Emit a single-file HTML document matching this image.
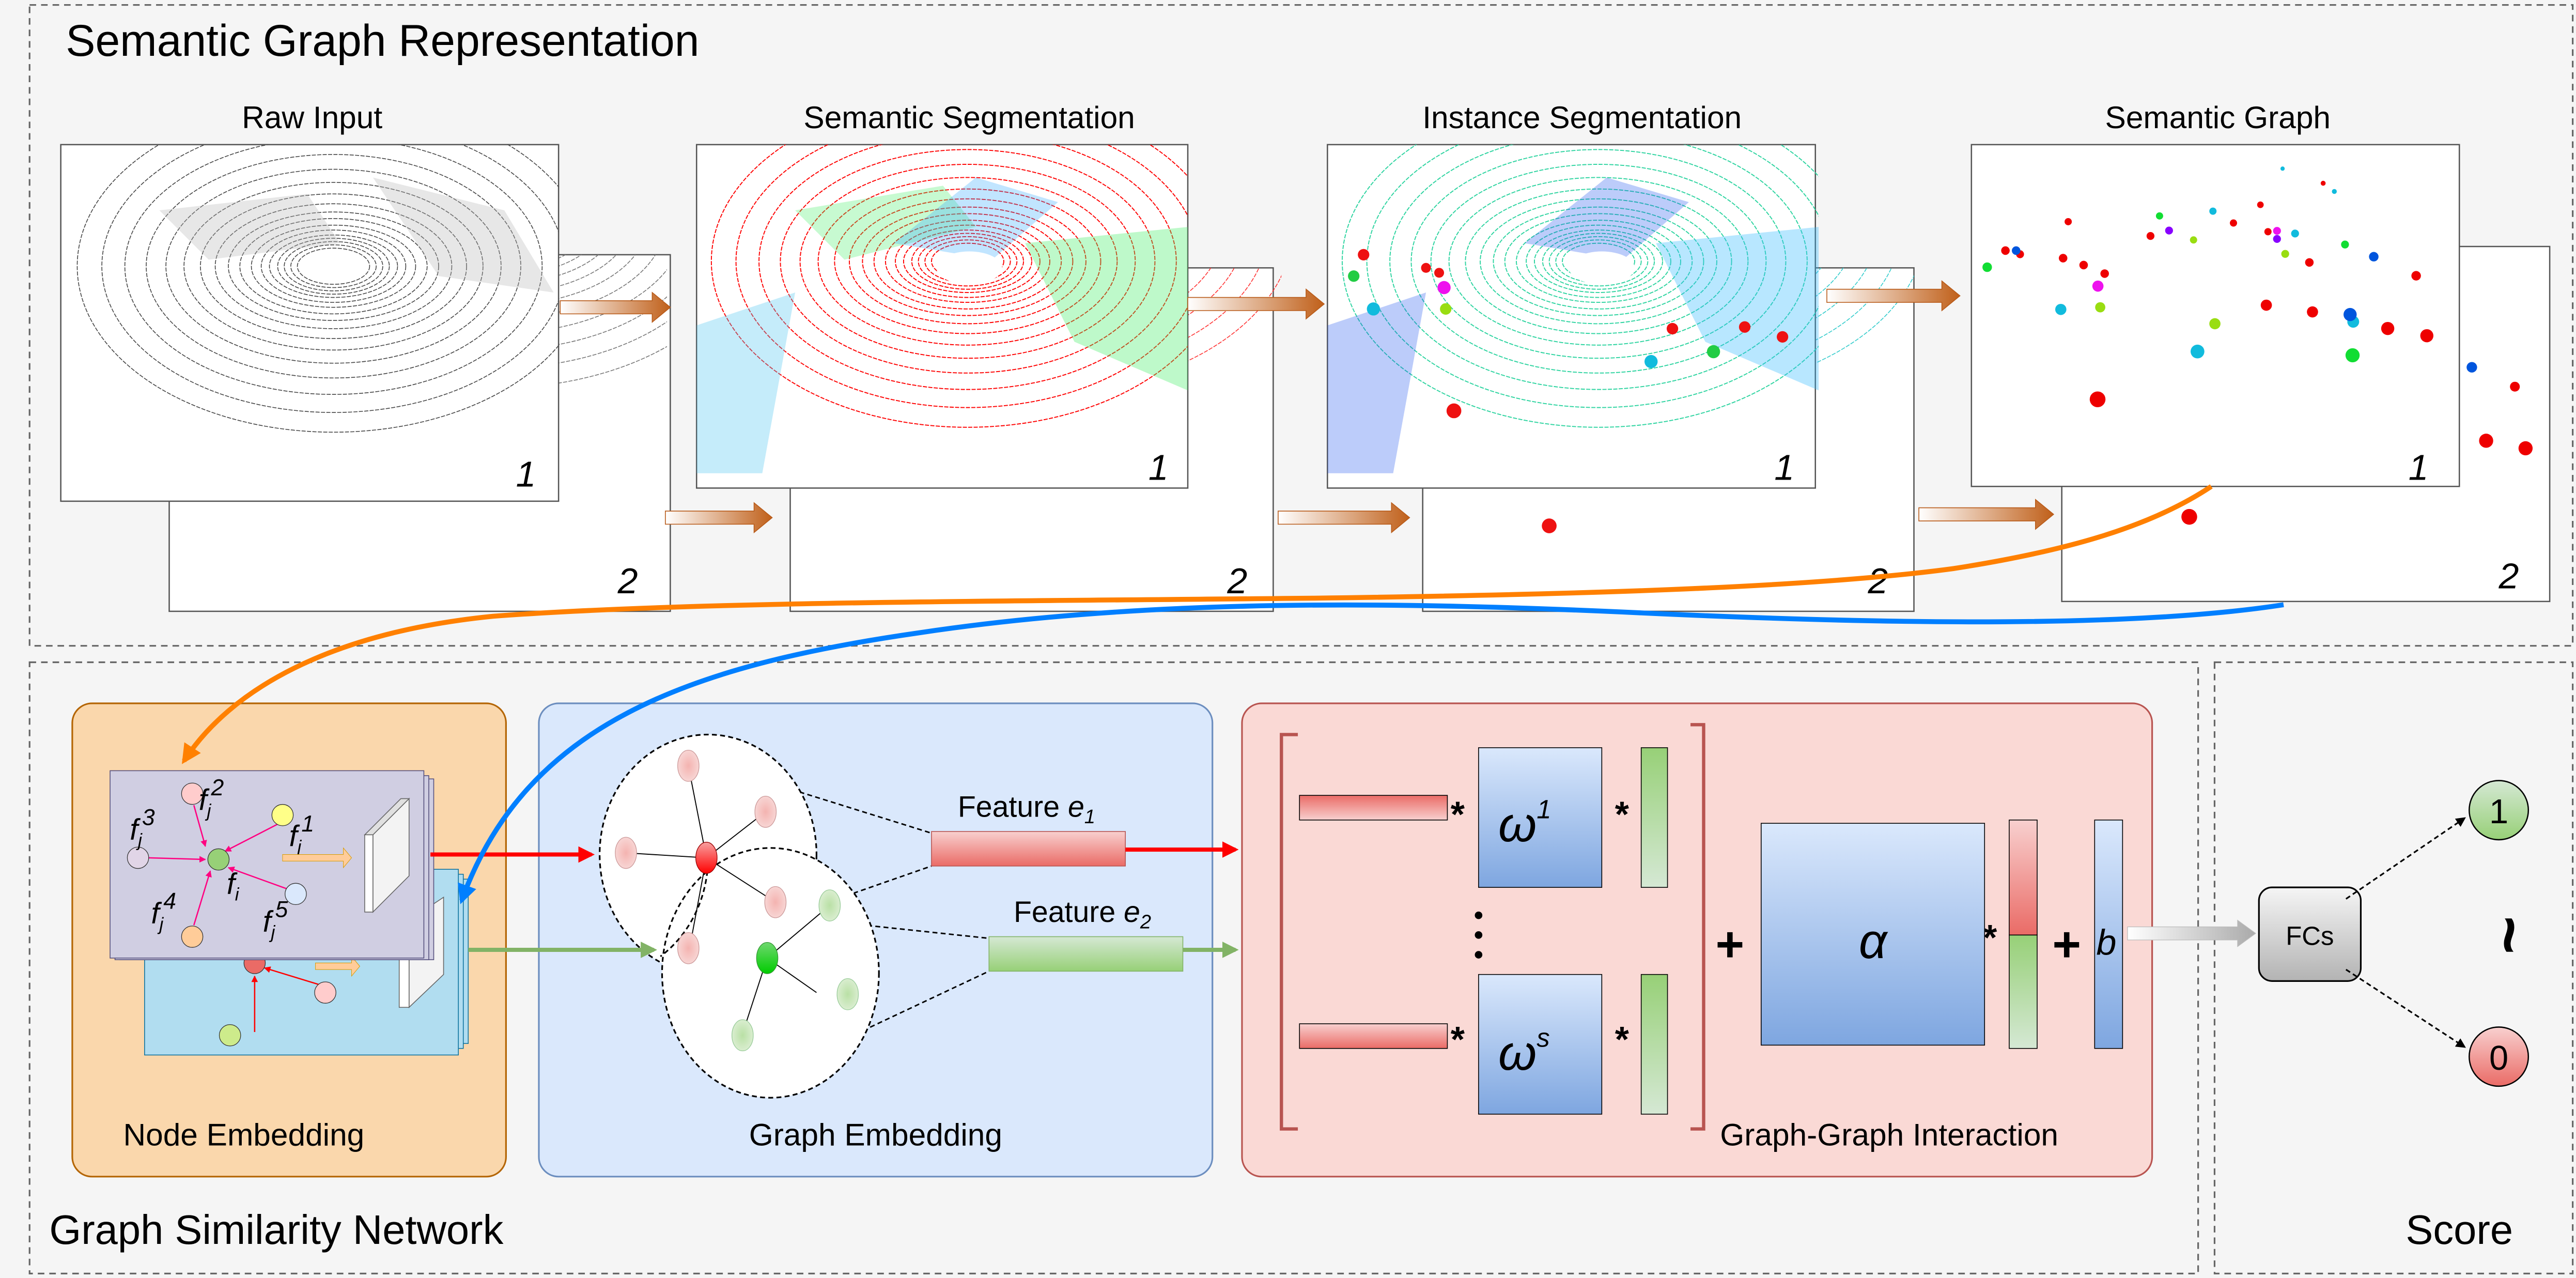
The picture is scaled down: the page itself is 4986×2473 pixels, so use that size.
<!DOCTYPE html>
<html><head><meta charset="utf-8"><style>
html,body{margin:0;padding:0;background:#f5f5f5}
svg{display:block}
text{font-family:"Liberation Sans",sans-serif}
</style></head><body>
<svg width="4986" height="2473" viewBox="0 0 1568 777.7" xmlns="http://www.w3.org/2000/svg">
<defs>
<linearGradient id="brown" x1="0" x2="1"><stop offset="0" stop-color="#fff"/><stop offset="1" stop-color="#c0601a"/></linearGradient>
<linearGradient id="redb" x1="0" y1="0" x2="0" y2="1"><stop offset="0" stop-color="#ea6b66"/><stop offset="1" stop-color="#f8d0cf"/></linearGradient>
<linearGradient id="redb2" x1="0" y1="0" x2="0" y2="1"><stop offset="0" stop-color="#f8d0cf"/><stop offset="1" stop-color="#ea6b66"/></linearGradient>
<linearGradient id="greenb" x1="0" y1="0" x2="0" y2="1"><stop offset="0" stop-color="#97d077"/><stop offset="1" stop-color="#d5e8d4"/></linearGradient>
<linearGradient id="greenh" x1="0" y1="0" x2="0" y2="1"><stop offset="0" stop-color="#d5e8d4"/><stop offset="1" stop-color="#97d077"/></linearGradient>
<linearGradient id="blueb" x1="0" y1="0" x2="0" y2="1"><stop offset="0" stop-color="#dae8fc"/><stop offset="1" stop-color="#7ea6e0"/></linearGradient>
<linearGradient id="gray" x1="0" y1="0" x2="0" y2="1"><stop offset="0" stop-color="#f5f5f5"/><stop offset="1" stop-color="#b3b3b3"/></linearGradient>
<linearGradient id="grayarr" x1="0" x2="1"><stop offset="0" stop-color="#fff"/><stop offset="1" stop-color="#aaa"/></linearGradient>
<radialGradient id="pn" cx=".5" cy=".5" r=".6"><stop offset="0" stop-color="#f4b3b0"/><stop offset="1" stop-color="#f8dcdb"/></radialGradient>
<radialGradient id="gn" cx=".5" cy=".5" r=".6"><stop offset="0" stop-color="#b9e0a5"/><stop offset="1" stop-color="#e0f0d8"/></radialGradient>
<linearGradient id="rn" x1="0" y1="0" x2="0" y2="1"><stop offset="0" stop-color="#f8a0a0"/><stop offset="1" stop-color="#f00"/></linearGradient>
<linearGradient id="gnn" x1="0" y1="0" x2="0" y2="1"><stop offset="0" stop-color="#6fd86f"/><stop offset="1" stop-color="#0c0"/></linearGradient>
<marker id="ah" viewBox="0 0 10 10" refX="8" refY="5" markerWidth="4" markerHeight="4" orient="auto"><path d="M0,0L10,5L0,10z" fill="context-stroke"/></marker>
<marker id="ahs" viewBox="0 0 10 10" refX="8" refY="5" markerWidth="6" markerHeight="6" orient="auto"><path d="M0,0L10,5L0,10z" fill="#000"/></marker>
<marker id="ahp" viewBox="0 0 10 10" refX="9" refY="5" markerWidth="5" markerHeight="5" orient="auto"><path d="M0,0L10,5L0,10z" fill="#ff0080"/></marker>
<marker id="ahr" viewBox="0 0 10 10" refX="9" refY="5" markerWidth="5" markerHeight="5" orient="auto"><path d="M0,0L10,5L0,10z" fill="#f00"/></marker>
<g id="cloud" fill="none" stroke-dasharray="2.5,0.8">
<ellipse rx="22" ry="11"/><ellipse rx="26" ry="13"/><ellipse rx="30" ry="15"/><ellipse rx="34" ry="17"/><ellipse rx="39" ry="19"/><ellipse rx="44" ry="22"/><ellipse rx="50" ry="25"/><ellipse rx="57" ry="29"/><ellipse rx="64" ry="33"/><ellipse rx="72" ry="38"/><ellipse rx="81" ry="44"/><ellipse rx="91" ry="51"/><ellipse rx="102" ry="59"/><ellipse rx="114" ry="68"/><ellipse rx="127" ry="78"/><ellipse rx="141" ry="89"/><ellipse rx="156" ry="101"/>
</g>
<clipPath id="c1"><rect x="0" y="0" width="303" height="217"/></clipPath>
<clipPath id="c2"><rect x="0" y="0" width="299" height="209"/></clipPath>
</defs>

<!-- top section -->
<rect x="18" y="3" width="1548" height="390" fill="#f5f5f5" stroke="#666" stroke-width="1" stroke-dasharray="4,3"/>
<text x="40" y="34" font-size="27">Semantic Graph Representation</text>
<text x="190" y="78" font-size="19" text-anchor="middle">Raw Input</text>
<text x="590" y="78" font-size="19" text-anchor="middle">Semantic Segmentation</text>
<text x="963" y="78" font-size="19" text-anchor="middle">Instance Segmentation</text>
<text x="1350" y="78" font-size="19" text-anchor="middle">Semantic Graph</text>

<!-- raw input -->
<g><rect x="103" y="155" width="305" height="217" fill="#fff" stroke="#555" stroke-width=".8"/>
<g transform="translate(103,155)" clip-path="url(#c1)"><use href="#cloud" x="200" y="-20" stroke="#777" stroke-width=".5"/></g>
<text x="376" y="361" font-size="22" font-style="italic">2</text></g>
<g><rect x="37" y="88" width="303" height="217" fill="#fff" stroke="#555" stroke-width=".8"/>
<g transform="translate(37,88)" clip-path="url(#c1)"><use href="#cloud" x="166" y="74" stroke="#444" stroke-width=".5"/>
<path d="M60,40 L150,30 L170,60 L90,70Z M190,20 L270,40 L300,90 L230,80Z" fill="#bbb" opacity=".35"/></g>
<ellipse cx="203" cy="162" rx="20" ry="10" fill="#fff"/>
<text x="314" y="296" font-size="22" font-style="italic">1</text></g>

<!-- semantic segmentation -->
<g><rect x="481" y="163" width="294" height="209" fill="#fff" stroke="#555" stroke-width=".8"/>
<g transform="translate(481,163)" clip-path="url(#c2)"><use href="#cloud" x="150" y="-25" stroke="#f33" stroke-width=".5"/></g>
<text x="747" y="361" font-size="22" font-style="italic">2</text></g>
<g><rect x="424" y="88" width="299" height="209" fill="#fff" stroke="#555" stroke-width=".8"/>
<g transform="translate(424,88)" clip-path="url(#c2)"><use href="#cloud" x="165" y="71" stroke="#f00" stroke-width=".6"/>
<path d="M0,110 L60,90 L40,200 L0,200Z" fill="#5ac8f0" opacity=".35"/>
<path d="M200,60 L300,50 L300,150 L230,120Z" fill="#4e6" opacity=".35"/>
<path d="M60,40 L150,25 L170,50 L90,70Z" fill="#4e6" opacity=".3"/>
<path d="M120,60 L170,20 L220,35 L180,70Z" fill="#3af" opacity=".3"/></g>
<ellipse cx="590" cy="163" rx="20" ry="10" fill="#fff"/>
<text x="699" y="292" font-size="22" font-style="italic">1</text></g>

<!-- instance segmentation -->
<g><rect x="866" y="163" width="299" height="209" fill="#fff" stroke="#555" stroke-width=".8"/>
<g transform="translate(866,163)" clip-path="url(#c2)"><use href="#cloud" x="150" y="-25" stroke="#3cc" stroke-width=".5"/></g>
<circle cx="943" cy="320" r="4.5" fill="#e11"/>
<text x="1137" y="361" font-size="22" font-style="italic">2</text></g>
<g><rect x="808" y="88" width="297" height="209" fill="#fff" stroke="#555" stroke-width=".8"/>
<g transform="translate(808,88)" clip-path="url(#c2)"><use href="#cloud" x="165" y="71" stroke="#2dd4a0" stroke-width=".6"/>
<path d="M0,110 L60,90 L40,200 L0,200Z" fill="#2255ee" opacity=".3"/>
<path d="M200,60 L300,50 L300,150 L230,120Z" fill="#3bf" opacity=".35"/>
<path d="M120,60 L170,20 L220,35 L180,70Z" fill="#25e" opacity=".3"/></g>
<ellipse cx="975" cy="163" rx="20" ry="10" fill="#fff"/>
<g fill="#e11"><circle cx="830" cy="155" r="3.5"/><circle cx="868" cy="163" r="3"/><circle cx="885" cy="250" r="4.5"/><circle cx="1018" cy="200" r="3.5"/><circle cx="1085" cy="205" r="3.5"/><circle cx="1062" cy="199" r="3.5"/><circle cx="876" cy="166" r="3"/></g>
<g fill="#2c4"><circle cx="1043" cy="214" r="4"/><circle cx="824" cy="168" r="3.5"/></g>
<g fill="#1bd"><circle cx="836" cy="188" r="4"/><circle cx="1005" cy="220" r="4"/></g>
<g fill="#e1e"><circle cx="879" cy="175" r="4"/></g>
<g fill="#9d1"><circle cx="880" cy="188" r="3.5"/></g>
<text x="1080" y="292" font-size="22" font-style="italic">1</text></g>

<!-- semantic graph -->
<g><rect x="1255" y="150" width="297" height="216" fill="#fff" stroke="#555" stroke-width=".8"/>
<circle cx="1504.6" cy="223.5" r="3.2" fill="#05d"/>
<g fill="#e00"><circle cx="1530.8" cy="235.3" r="3"/><circle cx="1513.3" cy="268.2" r="4.3"/><circle cx="1537.3" cy="272.8" r="4.3"/><circle cx="1332.6" cy="314.5" r="4.8"/></g>
<circle cx="1493" cy="286" r="4" fill="#1d3"/>
<text x="1521" y="358" font-size="22" font-style="italic">2</text></g>
<g><rect x="1200" y="88" width="297" height="208" fill="#fff" stroke="#555" stroke-width=".8"/>
<g fill="#e00">
<circle cx="1414.1" cy="111.5" r="1.5"/><circle cx="1375.9" cy="124.6" r="2"/><circle cx="1258.9" cy="134.9" r="2.2"/><circle cx="1359.5" cy="135.7" r="2.2"/><circle cx="1309" cy="143.6" r="2.4"/><circle cx="1380.5" cy="141" r="2.2"/><circle cx="1220.7" cy="152.5" r="2.6"/><circle cx="1229.6" cy="154.7" r="2.4"/><circle cx="1255.8" cy="157.1" r="2.6"/><circle cx="1268.3" cy="161.3" r="2.6"/><circle cx="1281.1" cy="166.5" r="2.6"/><circle cx="1405.7" cy="159.7" r="2.6"/><circle cx="1470.7" cy="167.8" r="2.9"/><circle cx="1379.5" cy="185.7" r="3.4"/><circle cx="1407.6" cy="189.8" r="3.4"/><circle cx="1453.4" cy="199.9" r="4"/><circle cx="1477.2" cy="204.3" r="4"/><circle cx="1276.8" cy="243" r="4.8"/></g>
<g fill="#1bd"><circle cx="1389.4" cy="102.6" r="1.3"/><circle cx="1420.9" cy="116.5" r="1.5"/><circle cx="1347" cy="128.5" r="2.2"/><circle cx="1397" cy="142.1" r="2.4"/><circle cx="1254.4" cy="188.3" r="3.4"/><circle cx="1432.4" cy="195.8" r="3.6"/><circle cx="1337.6" cy="213.9" r="4.2"/></g>
<g fill="#1d3"><circle cx="1314.5" cy="131.4" r="2.2"/><circle cx="1427.4" cy="148.8" r="2.4"/><circle cx="1209.6" cy="162.6" r="2.9"/><circle cx="1432" cy="216.2" r="4.3"/></g>
<g fill="#9d1"><circle cx="1335.2" cy="146" r="2.2"/><circle cx="1391" cy="154.5" r="2.4"/><circle cx="1278.4" cy="187" r="3.1"/><circle cx="1348.2" cy="197" r="3.4"/></g>
<g fill="#05d"><circle cx="1227.2" cy="152.5" r="2.6"/><circle cx="1444.9" cy="156.2" r="2.9"/><circle cx="1430.5" cy="191.4" r="4"/></g>
<g fill="#e1e"><circle cx="1386" cy="140.5" r="2.4"/><circle cx="1277" cy="174.1" r="3.4"/></g>
<g fill="#80f"><circle cx="1320.3" cy="140.3" r="2.4"/><circle cx="1386" cy="145.4" r="2.4"/></g>
<text x="1466" y="292" font-size="22" font-style="italic">1</text></g>

<!-- stage arrows -->
<g fill="url(#brown)" stroke="#b85a18" stroke-width=".5">
<path d="M341,183 h56 v-5 l11,9 l-11,9 v-5 h-56z"/>
<path d="M405,311 h54 v-5 l11,9 l-11,9 v-5 h-54z"/>
<path d="M723,181 h72 v-5 l11,9 l-11,9 v-5 h-72z"/>
<path d="M778,311 h69 v-5 l11,9 l-11,9 v-5 h-69z"/>
<path d="M1112,176 h70 v-5 l11,9 l-11,9 v-5 h-70z"/>
<path d="M1168,309 h71 v-5 l11,9 l-11,9 v-5 h-71z"/>
</g>

<!-- bottom sections -->
<rect x="18" y="403" width="1320" height="372" fill="#f5f5f5" stroke="#666" stroke-width="1" stroke-dasharray="4,3"/>
<rect x="1348" y="403" width="218" height="372" fill="#f5f5f5" stroke="#666" stroke-width="1" stroke-dasharray="4,3"/>
<text x="30" y="757" font-size="25">Graph Similarity Network</text>
<text x="1497" y="757" font-size="25" text-anchor="middle">Score</text>

<rect x="44" y="428" width="264" height="288" rx="12" fill="#fad7ac" stroke="#b46504" stroke-width="1"/>
<rect x="328" y="428" width="410" height="288" rx="12" fill="#dae8fc" stroke="#6c8ebf" stroke-width="1"/>
<rect x="756" y="428" width="554" height="288" rx="12" fill="#fad9d5" stroke="#b85450" stroke-width="1"/>
<text x="75" y="697" font-size="19">Node Embedding</text>
<text x="533" y="697" font-size="19" text-anchor="middle">Graph Embedding</text>
<text x="1047" y="697" font-size="19">Graph-Graph Interaction</text>

<!-- blue stack -->
<rect x="94" y="535" width="191" height="100" fill="#b1ddf0" stroke="#10739e" stroke-width=".5"/>
<rect x="91" y="532" width="191" height="106" fill="#b1ddf0" stroke="#10739e" stroke-width=".5"/>
<rect x="88" y="529" width="191" height="113" fill="#b1ddf0" stroke="#10739e" stroke-width=".5"/>
<path d="M249,560 L270,546 V593 L249,613z" fill="#f3f3f3" stroke="#666" stroke-width=".5"/>
<rect x="243" y="560" width="6" height="53" fill="#fff" stroke="#666" stroke-width=".5"/>
<path d="M155,628 L155,594" stroke="#f00" stroke-width=".8" marker-end="url(#ahr)"/>
<path d="M197,600 L161,589" stroke="#f00" stroke-width=".8" marker-end="url(#ahr)"/>
<circle cx="198" cy="604" r="6.5" fill="#fcc" stroke="#333" stroke-width=".4"/>
<circle cx="140" cy="630" r="6.5" fill="#cdeb8b" stroke="#333" stroke-width=".4"/>
<circle cx="155" cy="586" r="6.5" fill="#ea6b66" stroke="#333" stroke-width=".4"/>
<path d="M192,586 h22 v-4 l5,6 l-5,6 v-4 h-22z" fill="#ffcc99" stroke="#d79b00" stroke-width=".3"/>

<!-- purple stack -->
<rect x="73" y="474" width="191" height="110" fill="#d0cee2" stroke="#56517e" stroke-width=".5"/>
<rect x="70" y="472" width="191" height="112" fill="#d0cee2" stroke="#56517e" stroke-width=".5"/>
<rect x="67" y="469" width="191" height="114" fill="#d0cee2" stroke="#56517e" stroke-width=".5"/>
<path d="M227,508 L249,486 V533 L227,555z" fill="#f3f3f3" stroke="#666" stroke-width=".5"/>
<path d="M222,508 L244,486 H249 L227,508z" fill="#e0e0e0" stroke="#666" stroke-width=".5"/>
<rect x="222" y="508" width="5" height="47" fill="#fff" stroke="#666" stroke-width=".5"/>
<path d="M90,522 L125,523" stroke="#ff0080" stroke-width=".8" marker-end="url(#ahp)"/>
<path d="M118,490 L125,515" stroke="#ff0080" stroke-width=".8" marker-end="url(#ahp)"/>
<path d="M170,501 L137,518" stroke="#ff0080" stroke-width=".8" marker-end="url(#ahp)"/>
<path d="M175,541 L139,528" stroke="#ff0080" stroke-width=".8" marker-end="url(#ahp)"/>
<path d="M118,563 L128,530" stroke="#ff0080" stroke-width=".8" marker-end="url(#ahp)"/>
<circle cx="133" cy="523" r="6.5" fill="#97d077" stroke="#333" stroke-width=".4"/>
<circle cx="117" cy="483" r="6.5" fill="#ffcccc" stroke="#333" stroke-width=".4"/>
<circle cx="172" cy="496" r="6.5" fill="#ffff88" stroke="#333" stroke-width=".4"/>
<circle cx="84" cy="522" r="6.5" fill="#e1d5e7" stroke="#333" stroke-width=".4"/>
<circle cx="180" cy="544" r="6.5" fill="#dae8fc" stroke="#333" stroke-width=".4"/>
<circle cx="117" cy="570" r="6.5" fill="#ffcc99" stroke="#333" stroke-width=".4"/>
<g font-size="18" font-style="italic">
<text x="121" y="493">f<tspan font-size="11" dy="4">j</tspan><tspan font-size="14" dy="-13">2</tspan></text>
<text x="79" y="511">f<tspan font-size="11" dy="4">j</tspan><tspan font-size="14" dy="-13">3</tspan></text>
<text x="176" y="515">f<tspan font-size="11" dy="4">j</tspan><tspan font-size="14" dy="-13">1</tspan></text>
<text x="138" y="544">f<tspan font-size="11" dy="4">i</tspan></text>
<text x="92" y="562">f<tspan font-size="11" dy="4">j</tspan><tspan font-size="14" dy="-13">4</tspan></text>
<text x="160" y="567">f<tspan font-size="11" dy="4">j</tspan><tspan font-size="14" dy="-13">5</tspan></text>
</g>
<path d="M172,520 h37 v-4 l5,6 l-5,6 v-4 h-37z" fill="#ffcc99" stroke="#d79b00" stroke-width=".3"/>

<!-- graph embedding -->
<path d="M458,473 L567,507 M458,565 L567,527 M498,560 L602,571 M498,640 L602,591" stroke="#000" stroke-width=".9" stroke-dasharray="3,2"/>
<ellipse cx="431" cy="520" rx="66" ry="73" fill="#fff" stroke="#000" stroke-width="1" stroke-dasharray="3,2"/>
<ellipse cx="469" cy="592" rx="66" ry="76" fill="#fff" stroke="#000" stroke-width="1" stroke-dasharray="3,2"/>
<path d="M431,520 A66,73 0 0 1 402,582" fill="none" stroke="#000" stroke-width="1" stroke-dasharray="3,2"/>
<g stroke="#000" stroke-width=".6">
<path d="M430,522 L419,466 M430,522 L466,494 M430,522 L381,519 M430,522 L472,549 M430,522 L419,581"/>
<path d="M467,583 L505,551 M467,583 L497,604 M467,583 L451,632"/>
</g>
<ellipse cx="505" cy="551" rx="6.5" ry="9.5" fill="url(#gn)" stroke="#9c9" stroke-width=".4"/>
<ellipse cx="516" cy="605" rx="6.5" ry="9.5" fill="url(#gn)" stroke="#9c9" stroke-width=".4"/>
<ellipse cx="452" cy="630" rx="6.5" ry="9.5" fill="url(#gn)" stroke="#9c9" stroke-width=".4"/>
<ellipse cx="467" cy="583" rx="6.5" ry="9.5" fill="url(#gnn)" stroke="#393" stroke-width=".4"/>
<ellipse cx="419" cy="466" rx="6.5" ry="9.5" fill="url(#pn)" stroke="#c99" stroke-width=".4"/>
<ellipse cx="466" cy="494" rx="6.5" ry="9.5" fill="url(#pn)" stroke="#c99" stroke-width=".4"/>
<ellipse cx="381" cy="519" rx="6.5" ry="9.5" fill="url(#pn)" stroke="#c99" stroke-width=".4"/>
<ellipse cx="472" cy="549" rx="6.5" ry="9.5" fill="url(#pn)" stroke="#c99" stroke-width=".4"/>
<ellipse cx="419" cy="577" rx="6.5" ry="9.5" fill="url(#pn)" stroke="#c99" stroke-width=".4"/>
<ellipse cx="430" cy="522" rx="6.5" ry="9.5" fill="url(#rn)" stroke="#900" stroke-width=".4"/>

<rect x="567" y="506" width="118" height="21" fill="url(#redb2)" stroke="#b85450" stroke-width=".5"/>
<rect x="602" y="570" width="118" height="21" fill="url(#greenh)" stroke="#82b366" stroke-width=".5"/>
<text x="583" y="497" font-size="18">Feature <tspan font-style="italic">e</tspan><tspan font-size="12" dy="4" font-style="italic">1</tspan></text>
<text x="617" y="561" font-size="18">Feature <tspan font-style="italic">e</tspan><tspan font-size="12" dy="4" font-style="italic">2</tspan></text>

<!-- flow arrows -->
<g stroke-width="2.5" fill="none">
<path d="M262,520 L360,520" stroke="#f00" marker-end="url(#ah)"/>
<path d="M685,517 L752,517" stroke="#f00" marker-end="url(#ah)"/>
<path d="M285,578 L398,578" stroke="#82b366" marker-end="url(#ah)"/>
<path d="M720,578 L752,578" stroke="#82b366" marker-end="url(#ah)"/>
<path d="M1346,296 C1310,320 1260,335 1189,346 C1100,358 950,362 800,364 C600,366 420,366 300,375 C200,385 140,420 112,463" stroke="#ff8000" stroke-width="3" marker-end="url(#ah)"/>
<path d="M1390,368 C1300,382 1150,380 1000,373 C850,366 700,364 560,385 C420,405 320,440 281,548" stroke="#007fff" stroke-width="3" marker-end="url(#ah)"/>
</g>

<!-- interaction -->
<path d="M790,447 H780 V687 H790" fill="none" stroke="#b85450" stroke-width="2"/>
<path d="M1029,441 H1037 V687 H1029" fill="none" stroke="#b85450" stroke-width="2"/>
<rect x="791" y="484" width="90" height="15" fill="url(#redb)" stroke="#000" stroke-width=".5"/>
<rect x="791" y="623" width="90" height="15" fill="url(#redb2)" stroke="#000" stroke-width=".5"/>
<rect x="900" y="455" width="75" height="85" fill="url(#blueb)" stroke="#000" stroke-width=".5"/>
<rect x="900" y="593" width="75" height="85" fill="url(#blueb)" stroke="#000" stroke-width=".5"/>
<rect x="999" y="455" width="16" height="85" fill="url(#greenb)" stroke="#000" stroke-width=".5"/>
<rect x="999" y="593" width="16" height="85" fill="url(#greenb)" stroke="#000" stroke-width=".5"/>
<g font-size="22" font-weight="bold"><text x="883" y="503">*</text><text x="883" y="640">*</text><text x="983" y="503">*</text><text x="983" y="640">*</text><text x="1207" y="578">*</text></g>
<circle cx="900" cy="557" r="2.3"/><circle cx="900" cy="569" r="2.3"/><circle cx="900" cy="581" r="2.3"/>
<text x="912" y="512" font-size="30" font-style="italic">ω<tspan font-size="16" dy="-14">1</tspan></text>
<text x="912" y="651" font-size="30" font-style="italic">ω<tspan font-size="16" dy="-14">s</tspan></text>
<text x="1053" y="585" font-size="30" font-weight="bold" text-anchor="middle">+</text>
<rect x="1072" y="501" width="136" height="135" fill="url(#blueb)" stroke="#000" stroke-width=".5"/>
<text x="1140" y="583" font-size="30" font-style="italic" text-anchor="middle">α</text>
<rect x="1223" y="499" width="17" height="70" fill="url(#redb2)" stroke="#000" stroke-width=".5"/>
<rect x="1223" y="569" width="17" height="69" fill="url(#greenb)" stroke="#000" stroke-width=".5"/>
<text x="1258" y="585" font-size="30" font-weight="bold" text-anchor="middle">+</text>
<rect x="1275" y="499" width="17" height="139" fill="url(#blueb)" stroke="#000" stroke-width=".5"/>
<text x="1276" y="581" font-size="22" font-style="italic">b</text>

<!-- score -->
<path d="M1295,564 h67 v-4 l11,8 l-11,8 v-4 h-67z" fill="url(#grayarr)" stroke="#bbb" stroke-width=".4"/>
<rect x="1375" y="540" width="62" height="57" rx="8" fill="url(#gray)" stroke="#000" stroke-width="1"/>
<text x="1406" y="575" font-size="16" text-anchor="middle">FCs</text>
<path d="M1428,547 L1500,498" stroke="#000" stroke-width="1" stroke-dasharray="3,2" fill="none" marker-end="url(#ahs)"/>
<path d="M1428,590 L1500,637" stroke="#000" stroke-width="1" stroke-dasharray="3,2" fill="none" marker-end="url(#ahs)"/>
<circle cx="1521" cy="493" r="18" fill="url(#greenh)" stroke="#000" stroke-width=".8"/>
<circle cx="1521" cy="643" r="18" fill="url(#redb2)" stroke="#000" stroke-width=".8"/>
<text x="1521" y="501" font-size="21" text-anchor="middle">1</text>
<text x="1521" y="651" font-size="21" text-anchor="middle">0</text>
<text x="1525" y="580" font-size="40" font-weight="bold" text-anchor="middle" transform="rotate(90 1525 569)">~</text>
</svg>
</body></html>
